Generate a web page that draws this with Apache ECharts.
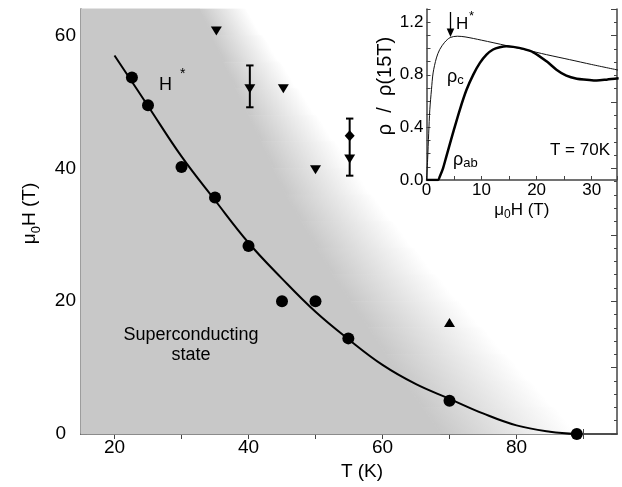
<!DOCTYPE html>
<html><head><meta charset="utf-8">
<script src="https://cdn.jsdelivr.net/npm/echarts@6/dist/echarts.min.js"></script>
<style>html,body{margin:0;padding:0;background:#fff}#c{width:622px;height:487px}</style>
</head><body><div id="c"></div>
<script>
const FONT = "'Liberation Sans', Arial, Helvetica, sans-serif";
const AX = '#444';
const GRAY = '#c8c8c8';

// ---- main panel data (T in K, mu0H in T) ----
const circleT = [22.6, 25, 30, 35, 40, 45, 50, 54.9, 70, 89];
const circleH = [53.7, 49.5, 40.2, 35.6, 28.3, 20.0, 20.0, 14.4, 5.0, 0];
const downT = [35.2, 40.2, 45.2, 50.0, 55.1];
const downH = [60.7, 52.0, 52.0, 39.8, 41.4];
const upT = [70];
const upH = [16.8];
const diamondT = [55.1];
const diamondH = [44.9];
const errT = [40.2, 55.1];
const errLow = [49.2, 38.9];
const errHigh = [55.5, 47.5];
const curveT = [20, 25, 30, 35, 40, 45, 50, 55, 60, 65, 70, 75, 80, 85, 89];
const curveH = [57.0, 49.4, 41.8, 35.2, 28.8, 23.4, 18.4, 14.2, 10.4, 7.5, 5.3, 3.1, 1.3, 0.35, 0];
// background shading: at each field row, T where the fade starts and T where white begins
const shadeH      = [64, 60, 56, 52, 48, 44, 40, 36, 32, 28, 24, 20, 16, 12, 8, 4, 0];
const shadeInnerT = [32.8, 34.5, 36.3, 38.1, 40.0, 41.9, 43.7, 45.6, 47.9, 50.2, 52.6, 55.2, 57.9, 60.5, 63.2, 66.0, 68.7];
const shadeOuterT = [39.5, 42.1, 44.7, 47.4, 50.1, 52.9, 55.6, 58.4, 61.5, 64.7, 67.9, 71.4, 74.9, 78.4, 82.0, 85.6, 89.2];
// tick values
const xTicks = [20, 30, 40, 50, 60, 70, 80, 90];
const xLabels = [20, 40, 60, 80];

// ---- inset data (mu0H in T, rho/rho(15T)) ----
const rhoC = [[0,0],[0.2,0.153],[0.4,0.356],[0.6,0.534],[0.9,0.686],[1.2,0.814],[1.8,0.928],[2.4,0.992],[3.3,1.047],[4.3,1.083],[5.6,1.093],[7,1.088],[10,1.063],[14.5,1.022],[18,0.99],[21.8,0.953],[26,0.915],[30,0.878],[35,0.834]];
const rhoAB = [[0,0],[2.1,0],[2.4,0.025],[3.0,0.089],[3.6,0.178],[4.8,0.356],[6.05,0.534],[7.27,0.686],[8.5,0.801],[9.7,0.89],[10.9,0.953],[12.1,0.992],[13.3,1.009],[14.5,1.017],[15.75,1.012],[17.6,0.997],[19.4,0.971],[21.8,0.902],[23.6,0.839],[25.4,0.793],[27.3,0.770],[29.1,0.763],[30.9,0.757],[32.7,0.763],[34.9,0.773]];

const pair = (a, b) => a.map((v, i) => [v, b[i]]);

function renderShade(params, api) {
  const inn = shadeH.map((h, i) => api.coord([shadeInnerT[i], h]));
  const out = shadeH.map((h, i) => api.coord([shadeOuterT[i], h]));
  const tl = api.coord([15, 64]), bl = api.coord([15, 0]);
  const children = [{type: 'polygon', shape: {points: [tl].concat(inn, [bl])}, style: {fill: GRAY, stroke: GRAY, lineWidth: 1}}];
  for (let i = 0; i < inn.length - 1; i++) {
    const a0 = inn[i], a1 = inn[i + 1], b0 = out[i], b1 = out[i + 1];
    const dx = (a1[0] - a0[0]) + (b1[0] - b0[0]), dy = (a1[1] - a0[1]) + (b1[1] - b0[1]);
    const L = Math.hypot(dx, dy);
    let nx = dy / L, ny = -dx / L;
    const m = [(a0[0] + a1[0]) / 2, (a0[1] + a1[1]) / 2];
    const mo = [(b0[0] + b1[0]) / 2, (b0[1] + b1[1]) / 2];
    let d = (mo[0] - m[0]) * nx + (mo[1] - m[1]) * ny;
    if (d < 0) { nx = -nx; ny = -ny; d = -d; }
    const grad = new echarts.graphic.LinearGradient(m[0], m[1], m[0] + nx * d, m[1] + ny * d,
      [{offset: 0, color: GRAY}, {offset: 1, color: '#ffffff'}], true);
    children.push({type: 'polygon', shape: {points: [a0, b0, b1, a1]}, style: {fill: grad, stroke: grad, lineWidth: 0.8}});
  }
  return {type: 'group', children};
}

function renderErr(params, api) {
  const x = api.value(0), lo = api.value(1), hi = api.value(2);
  const p1 = api.coord([x, lo]), p2 = api.coord([x, hi]);
  const w = 3.7, st = {stroke: '#000', lineWidth: 2};
  return {type: 'group', children: [
    {type: 'line', shape: {x1: p1[0], y1: p1[1], x2: p2[0], y2: p2[1]}, style: st},
    {type: 'line', shape: {x1: p1[0] - w, y1: p1[1], x2: p1[0] + w, y2: p1[1]}, style: st},
    {type: 'line', shape: {x1: p2[0] - w, y1: p2[1], x2: p2[0] + w, y2: p2[1]}, style: st}
  ]};
}

const txt = (size) => ({fontSize: size, fontFamily: FONT, color: '#000'});
const axLine = {show: true, lineStyle: {color: AX, width: 1.5}};
const mark = {color: '#000', opacity: 1};

const chart = echarts.init(document.getElementById('c'), null, {renderer: 'canvas'});
chart.setOption({
  animation: false,
  backgroundColor: '#fff',
  grid: [
    {left: 81, top: 9, width: 536, height: 425, show: false},
    {left: 426.5, top: 9, width: 190.5, height: 171, show: true, backgroundColor: '#fff', borderWidth: 0}
  ],
  xAxis: [
    {type: 'value', gridIndex: 0, position: 'bottom', min: 15, max: 95, interval: 5,
      axisLine: axLine, splitLine: {show: false},
      axisTick: {inside: true, length: 5, customValues: xTicks, lineStyle: {color: AX, width: 1}},
      axisLabel: Object.assign({customValues: xLabels, margin: 4}, txt(19)),
      name: 'T (K)', nameLocation: 'middle', nameGap: 27,
      nameTextStyle: Object.assign({padding: [0, 0, 0, 26]}, txt(19))},
    {type: 'value', gridIndex: 0, position: 'top', min: 15, max: 95, interval: 5,
      axisLine: axLine, splitLine: {show: false},
      axisTick: {inside: true, length: 5, customValues: xTicks, lineStyle: {color: AX, width: 1}},
      axisLabel: {show: false}},
    {type: 'value', gridIndex: 1, position: 'bottom', min: 0, max: 34.6, interval: 5,
      axisLine: axLine, splitLine: {show: false},
      axisTick: {inside: true, length: 4, lineStyle: {color: AX, width: 1}},
      axisLabel: Object.assign({margin: 2, formatter: v => (Math.abs(v % 10) < 1e-6 ? String(v) : '')}, txt(17)),
      name: '{a|μ}{s|0}{a|H (T)}', nameLocation: 'middle', nameGap: 19,
      nameTextStyle: {rich: {a: Object.assign({lineHeight: 22}, txt(17)), s: Object.assign({lineHeight: 11, verticalAlign: 'bottom'}, txt(12))}}}
  ],
  yAxis: [
    {type: 'value', gridIndex: 0, position: 'left', min: 0, max: 64, interval: 2,
      axisLine: axLine, splitLine: {show: false},
      axisTick: {inside: true, length: 3, lineStyle: {color: AX, width: 1}},
      axisLabel: Object.assign({margin: 5,
        formatter: v => (v === 0 ? '{z|0}' : (v % 20 === 0 ? String(v) : '')),
        rich: {z: Object.assign({padding: [0, 10, 0, 0]}, txt(19))}}, txt(19)),
      name: '{a|μ}{s|0}{a|H (T)}', nameLocation: 'middle', nameGap: 38,
      nameTextStyle: {padding: [0, 0, 0, 16], rich: {a: Object.assign({lineHeight: 26}, txt(19)), s: Object.assign({lineHeight: 13, verticalAlign: 'bottom'}, txt(13))}}},
    {type: 'value', gridIndex: 0, position: 'left', min: 0, max: 64, interval: 10,
      axisLine: {show: false}, splitLine: {show: false},
      axisTick: {inside: true, length: 6, lineStyle: {color: AX, width: 1}},
      axisLabel: {show: false}},
    {type: 'value', gridIndex: 0, position: 'right', min: 0, max: 64, interval: 2,
      axisLine: axLine, splitLine: {show: false},
      axisTick: {inside: true, length: 3, lineStyle: {color: AX, width: 1}},
      axisLabel: {show: false}},
    {type: 'value', gridIndex: 0, position: 'right', min: 0, max: 64, interval: 10,
      axisLine: {show: false}, splitLine: {show: false},
      axisTick: {inside: true, length: 6, lineStyle: {color: AX, width: 1}},
      axisLabel: {show: false}},
    {type: 'value', gridIndex: 1, position: 'left', min: 0, max: 1.3, interval: 0.1,
      axisLine: axLine, splitLine: {show: false},
      axisTick: {inside: true, length: 4, lineStyle: {color: AX, width: 1}},
      axisLabel: Object.assign({margin: 3, formatter: v => (Math.round(v * 10) % 4 === 0 ? v.toFixed(1) : '')}, txt(17)),
      name: 'ρ  /  ρ(15T)', nameLocation: 'middle', nameGap: 29,
      nameTextStyle: Object.assign({padding: [0, 0, 0, 17]}, txt(20))}
  ],
  series: [
    {type: 'custom', xAxisIndex: 0, yAxisIndex: 0, renderItem: renderShade, data: [0], silent: true, z: 1},
    {type: 'line', xAxisIndex: 0, yAxisIndex: 0, data: pair(curveT, curveH), smooth: 0.4, showSymbol: false,
      lineStyle: {color: '#000', width: 2}, z: 3},
    {type: 'custom', xAxisIndex: 0, yAxisIndex: 0, renderItem: renderErr,
      data: errT.map((t, i) => [t, errLow[i], errHigh[i]]), z: 4},
    {type: 'scatter', xAxisIndex: 0, yAxisIndex: 0, data: pair(circleT, circleH), symbol: 'circle', symbolSize: 12,
      itemStyle: mark, clip: false, z: 5},
    {type: 'scatter', xAxisIndex: 0, yAxisIndex: 0, data: pair(downT, downH), symbol: 'triangle', symbolRotate: 180,
      symbolSize: [11, 9], itemStyle: mark, z: 5},
    {type: 'scatter', xAxisIndex: 0, yAxisIndex: 0, data: pair(upT, upH), symbol: 'triangle',
      symbolSize: [11, 9], itemStyle: mark, z: 5},
    {type: 'scatter', xAxisIndex: 0, yAxisIndex: 0, data: pair(diamondT, diamondH), symbol: 'diamond',
      symbolSize: [10, 11], itemStyle: mark, z: 5},
    {type: 'line', xAxisIndex: 2, yAxisIndex: 4, data: rhoC, smooth: 0.3, showSymbol: false,
      lineStyle: {color: '#111', width: 1}, z: 3},
    {type: 'line', xAxisIndex: 2, yAxisIndex: 4, data: rhoAB, smooth: 0.3, showSymbol: false,
      lineStyle: {color: '#000', width: 2.5}, z: 3}
  ],
  graphic: [
    {type: 'text', left: 159, top: 76, z: 10, style: {text: 'H', font: '18px ' + FONT, fill: '#000'}},
    {type: 'text', left: 180, top: 67, z: 10, style: {text: '*', font: '14px ' + FONT, fill: '#000'}},
    {type: 'text', x: 191, y: 345, z: 10, style: {text: 'Superconducting\nstate', font: '18px ' + FONT, fill: '#000',
      align: 'center', verticalAlign: 'middle', lineHeight: 20}},
    {type: 'line', z: 10, shape: {x1: 450.5, y1: 12, x2: 450.5, y2: 31}, style: {stroke: '#000', lineWidth: 1.3}},
    {type: 'polygon', z: 10, shape: {points: [[446.7, 28.5], [454.3, 28.5], [450.5, 37]]}, style: {fill: '#000'}},
    {type: 'text', left: 456, top: 16, z: 10, style: {text: 'H', font: '17px ' + FONT, fill: '#000'}},
    {type: 'text', left: 469, top: 10, z: 10, style: {text: '*', font: '13px ' + FONT, fill: '#000'}},
    {type: 'text', x: 447, y: 77, z: 10, style: {text: '{r|ρ}{s|c}', align: 'left', verticalAlign: 'middle',
      rich: {r: {font: '18px ' + FONT, fill: '#000', lineHeight: 20}, s: {font: '13px ' + FONT, fill: '#000', lineHeight: 10, verticalAlign: 'bottom'}}}},
    {type: 'text', x: 453, y: 160, z: 10, style: {text: '{r|ρ}{s|ab}', align: 'left', verticalAlign: 'middle',
      rich: {r: {font: '18px ' + FONT, fill: '#000', lineHeight: 20}, s: {font: '13px ' + FONT, fill: '#000', lineHeight: 10, verticalAlign: 'bottom'}}}},
    {type: 'text', x: 610, y: 150, z: 10, style: {text: 'T = 70K', font: '17px ' + FONT, fill: '#000', align: 'right', verticalAlign: 'middle'}}
  ]
});
</script></body></html>
